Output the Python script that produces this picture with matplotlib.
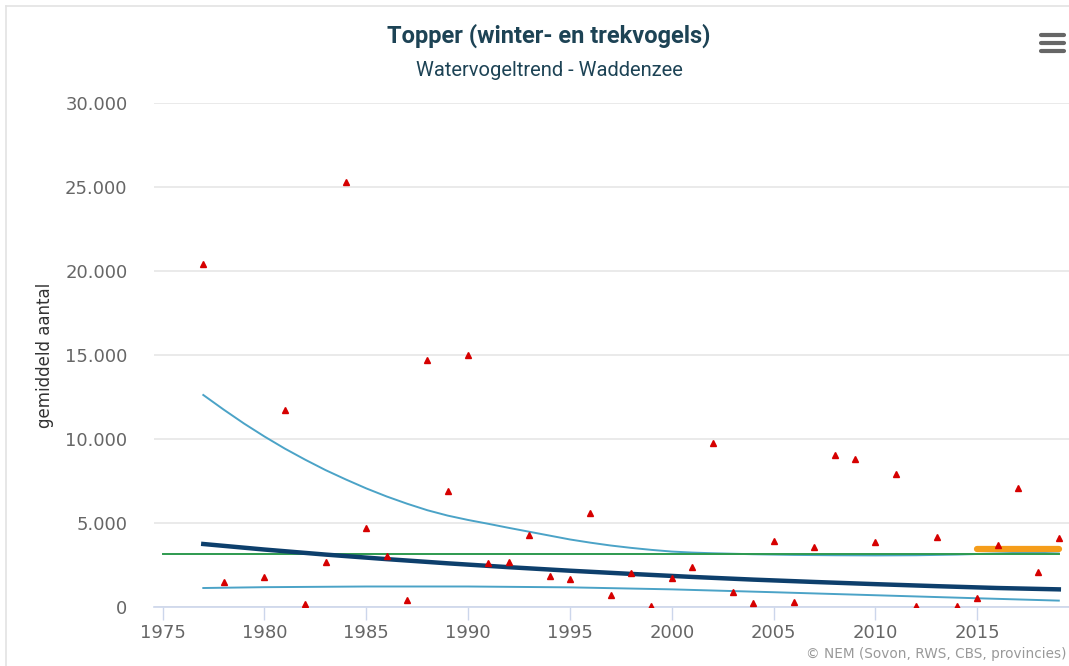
import matplotlib.pyplot as plt
from matplotlib.lines import Line2D
from matplotlib.ticker import FuncFormatter

# Telwaarden per jaar (rode driehoekjes)
jaren = [1977, 1978, 1980, 1981, 1982, 1983, 1984, 1985, 1986, 1987, 1988, 1989,
         1990, 1991, 1992, 1993, 1994, 1995, 1996, 1997, 1998, 1999, 2000, 2001,
         2002, 2003, 2004, 2005, 2006, 2007, 2008, 2009, 2010, 2011, 2012, 2013,
         2014, 2015, 2016, 2017, 2018, 2019]
aantallen = [20400, 1500, 1800, 11700, 150, 2680, 25300, 4700, 3050, 400, 14700, 6900,
             15000, 2600, 2650, 4300, 1850, 1650, 5600, 720, 2000, 80, 1740, 2400,
             9780, 920, 260, 3950, 320, 3580, 9060, 8800, 3880, 7900, 80, 4180,
             80, 560, 3700, 7100, 2100, 4100]

# Trendlijn en betrouwbaarheidsgrenzen
trend_jaren = [1977, 1980, 1983, 1986, 1989, 1992, 1995, 1998, 2001, 2004, 2007, 2010, 2013, 2016, 2019]
trend = [3750, 3420, 3120, 2850, 2600, 2370, 2160, 1970, 1790, 1630, 1490, 1360, 1240, 1130, 1050]

boven_jaren = [1977, 1978, 1979, 1980, 1981, 1982, 1983, 1984, 1985, 1986, 1987, 1988,
               1989, 1990, 1991, 1992, 1993, 1994, 1995, 1996, 1997, 1998, 1999, 2000,
               2001, 2002, 2004, 2006, 2008, 2010, 2012, 2014, 2016, 2018, 2019]
boven = [12620, 11750, 10920, 10150, 9430, 8770, 8150, 7590, 7060, 6580, 6150, 5760,
         5440, 5180, 4950, 4710, 4480, 4250, 4020, 3830, 3660, 3520, 3400, 3300,
         3240, 3200, 3140, 3100, 3080, 3070, 3080, 3120, 3190, 3260, 3300]

onder_jaren = [1977, 1980, 1985, 1990, 1995, 2000, 2005, 2010, 2015, 2019]
onder = [1130, 1180, 1220, 1220, 1170, 1050, 880, 700, 520, 380]

# Gemiddelde over de hele periode en over de laatste vijf jaar
gem_jaren = [1975, 2019]
gem = [3140, 3140]
recent_jaren = [2015, 2019]
recent = [3480, 3480]

fig = plt.figure(figsize=(10.69, 6.66), dpi=100)
ax = fig.add_axes([154 / 1069, 59 / 666, (1069 - 154) / 1069, 504 / 666])

ax.plot(boven_jaren, boven, color='#4ba3c7', lw=1.4, zorder=2)
ax.plot(onder_jaren, onder, color='#4ba3c7', lw=1.4, zorder=2)
ax.plot(gem_jaren, gem, color='#2e9a4f', lw=1.4, zorder=3)
ax.plot(trend_jaren, trend, color='#0d3f6c', lw=3.2, zorder=4)
ax.plot(recent_jaren, recent, color='#f59d1a', lw=4.5, solid_capstyle='round', zorder=5)
ax.plot(jaren, aantallen, ls='none', marker='^', ms=5, color='#d60000', zorder=6)

ax.set_xlim(1974.58, 2019.5)
ax.set_ylim(0, 30000)
ax.set_xticks(range(1975, 2016, 5))
ax.set_yticks(range(0, 30001, 5000))
ax.yaxis.set_major_formatter(FuncFormatter(lambda v, p: f"{int(v):,}".replace(",", ".")))

for s in ['top', 'right', 'left']:
    ax.spines[s].set_visible(False)
ax.spines['bottom'].set_color('#ccd6eb')
ax.spines['bottom'].set_linewidth(1.2)
ax.grid(axis='y', color='#e6e6e6', lw=1.2)
ax.set_axisbelow(True)
ax.tick_params(axis='y', length=0, pad=19, labelsize=13, labelcolor='#666666')
ax.tick_params(axis='x', length=9, width=1, color='#ccd6eb', pad=3,
               labelsize=13, labelcolor='#666666')

ax.set_ylabel("gemiddeld aantal", fontsize=12, color='#333333', labelpad=8)

fig.text(549 / 1069, 1 - 36 / 666, "Topper (winter- en trekvogels)", ha='center', va='center',
         fontsize=17, fontweight='bold', color='#1d4355', family='Roboto')
fig.text(549 / 1069, 1 - 71 / 666, "Watervogeltrend - Waddenzee", ha='center', va='center',
         fontsize=14.5, color='#1d4355', family='Roboto')
fig.text(1066 / 1069, 1 - 654 / 666, "© NEM (Sovon, RWS, CBS, provincies)", ha='right', va='center',
         fontsize=9.8, color='#999999')

# menu-icoon rechtsboven
for yy in [35, 43, 51]:
    fig.add_artist(Line2D([1041 / 1069, 1064 / 1069], [1 - yy / 666] * 2, color='#666666',
                          lw=3, solid_capstyle='round'))

# rand van de pagina
fig.add_artist(Line2D([6 / 1069, 1], [1 - 6 / 666] * 2, color='#e3e3e3', lw=1.2))
fig.add_artist(Line2D([6 / 1069] * 2, [0, 1 - 6 / 666], color='#e3e3e3', lw=1.2))

plt.savefig('out.png', dpi=100)
